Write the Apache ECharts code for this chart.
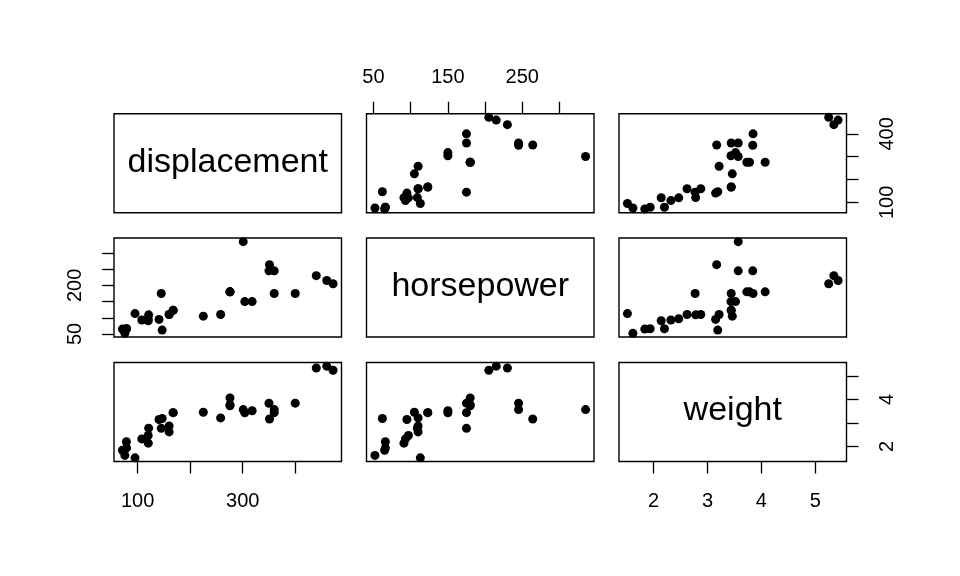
<!DOCTYPE html>
<html><head><meta charset="utf-8">
<script src="https://cdn.jsdelivr.net/npm/echarts@6/dist/echarts.min.js"></script>
<style>html,body{margin:0;padding:0;background:#fff}#c{width:960px;height:576px}</style>
</head><body><div id="c"></div>
<script>
const varNames = ['displacement', 'horsepower', 'weight'];
const disp = [160,160,108,258,360,225,360,146.7,140.8,167.6,167.6,275.8,275.8,275.8,472,460,440,78.7,75.7,71.1,120.1,318,304,350,400,79,120.3,95.1,351,145,301,121];
const hp = [110,110,93,110,175,105,245,62,95,123,123,180,180,180,205,215,230,66,52,65,97,150,150,245,175,66,91,113,264,175,335,109];
const wt = [2.620,2.875,2.320,3.215,3.440,3.460,3.570,3.190,3.150,3.440,3.440,4.070,3.730,3.780,5.250,5.424,5.345,2.200,1.615,1.835,2.465,3.520,3.435,3.840,3.845,1.935,2.140,1.513,3.170,2.770,3.570,2.780];
const dispTicks = [100,200,300,400];
const hpTicks = [50,100,150,200,250,300];
const wtTicks = [2,3,4,5];
const dispLabelsBottom = [100,300];
const dispLabelsRight = [100,400];
const hpLabelsTop = [50,150,250];
const hpLabelsLeft = [50,200];
const wtLabelsBottom = [2,3,4,5];
const wtLabelsRight = [2,4];

const vars = [disp, hp, wt];
function rng(a){const mn=Math.min(...a),mx=Math.max(...a),e=(mx-mn)*0.04;return [mn-e,mx+e];}
const ranges = vars.map(rng);
const tickSets = [dispTicks, hpTicks, wtTicks];

const colLeft = [114, 366.5, 619];
const rowTop = [113.7, 238, 362.5];
const W = 227.5, H = 99;
const FONT = 'Liberation Sans, Arial, Helvetica, sans-serif';

const xAxisDeco = {'2,0': {pos:'bottom', labels: dispLabelsBottom, margin: 30}, '2,2': {pos:'bottom', labels: wtLabelsBottom, margin: 30}, '0,1': {pos:'top', labels: hpLabelsTop, margin: 26}};
const yAxisDeco = {'1,0': {pos:'left', labels: hpLabelsLeft, margin: 29}, '0,2': {pos:'right', labels: dispLabelsRight, margin: 31}, '2,2': {pos:'right', labels: wtLabelsRight, margin: 31}};

const grids = [], xAxes = [], yAxes = [], series = [], graphics = [];
let gi = 0;
for (let r = 0; r < 3; r++) {
  for (let c = 0; c < 3; c++) {
    grids.push({left: colLeft[c], top: rowTop[r], width: W, height: H, show: true, borderColor: '#000', borderWidth: 1.4, backgroundColor: 'transparent', containLabel: false});
    const xd = xAxisDeco[r + ',' + c];
    const yd = yAxisDeco[r + ',' + c];
    xAxes.push({
      gridIndex: gi, type: 'value', min: ranges[c][0], max: ranges[c][1],
      position: xd ? xd.pos : 'bottom',
      axisLine: {show: false}, splitLine: {show: false},
      axisTick: {show: !!xd, length: 12, inside: false, lineStyle: {color: '#000', width: 1.3}, customValues: tickSets[c]},
      axisLabel: {show: !!xd, customValues: xd ? xd.labels : [], color: '#000', fontSize: 20, fontFamily: FONT, margin: xd ? xd.margin : 30}
    });
    yAxes.push({
      gridIndex: gi, type: 'value', min: ranges[r][0], max: ranges[r][1],
      position: yd ? yd.pos : 'left',
      axisLine: {show: false}, splitLine: {show: false},
      axisTick: {show: !!yd, length: 12, inside: false, lineStyle: {color: '#000', width: 1.3}, customValues: tickSets[r]},
      axisLabel: {show: !!yd, customValues: yd ? yd.labels : [], color: '#000', fontSize: 20, fontFamily: FONT, margin: yd ? yd.margin : 30, rotate: 90}
    });
    if (r === c) {
      graphics.push({type: 'text', x: colLeft[c] + W / 2, y: rowTop[r] + H / 2 - 1,
        style: {text: varNames[r], font: '34px ' + FONT, fill: '#000', align: 'center', verticalAlign: 'middle'}});
    } else {
      const xs = vars[c], ys = vars[r];
      series.push({type: 'scatter', xAxisIndex: gi, yAxisIndex: gi, symbol: 'circle', symbolSize: 9,
        itemStyle: {color: '#000', opacity: 1}, silent: true, animation: false,
        data: xs.map((v, i) => [v, ys[i]])});
    }
    gi++;
  }
}

const chart = echarts.init(document.getElementById('c'), null, {renderer: 'canvas'});
chart.setOption({
  animation: false, backgroundColor: '#fff',
  grid: grids, xAxis: xAxes, yAxis: yAxes, series: series, graphic: graphics
});
</script></body></html>
